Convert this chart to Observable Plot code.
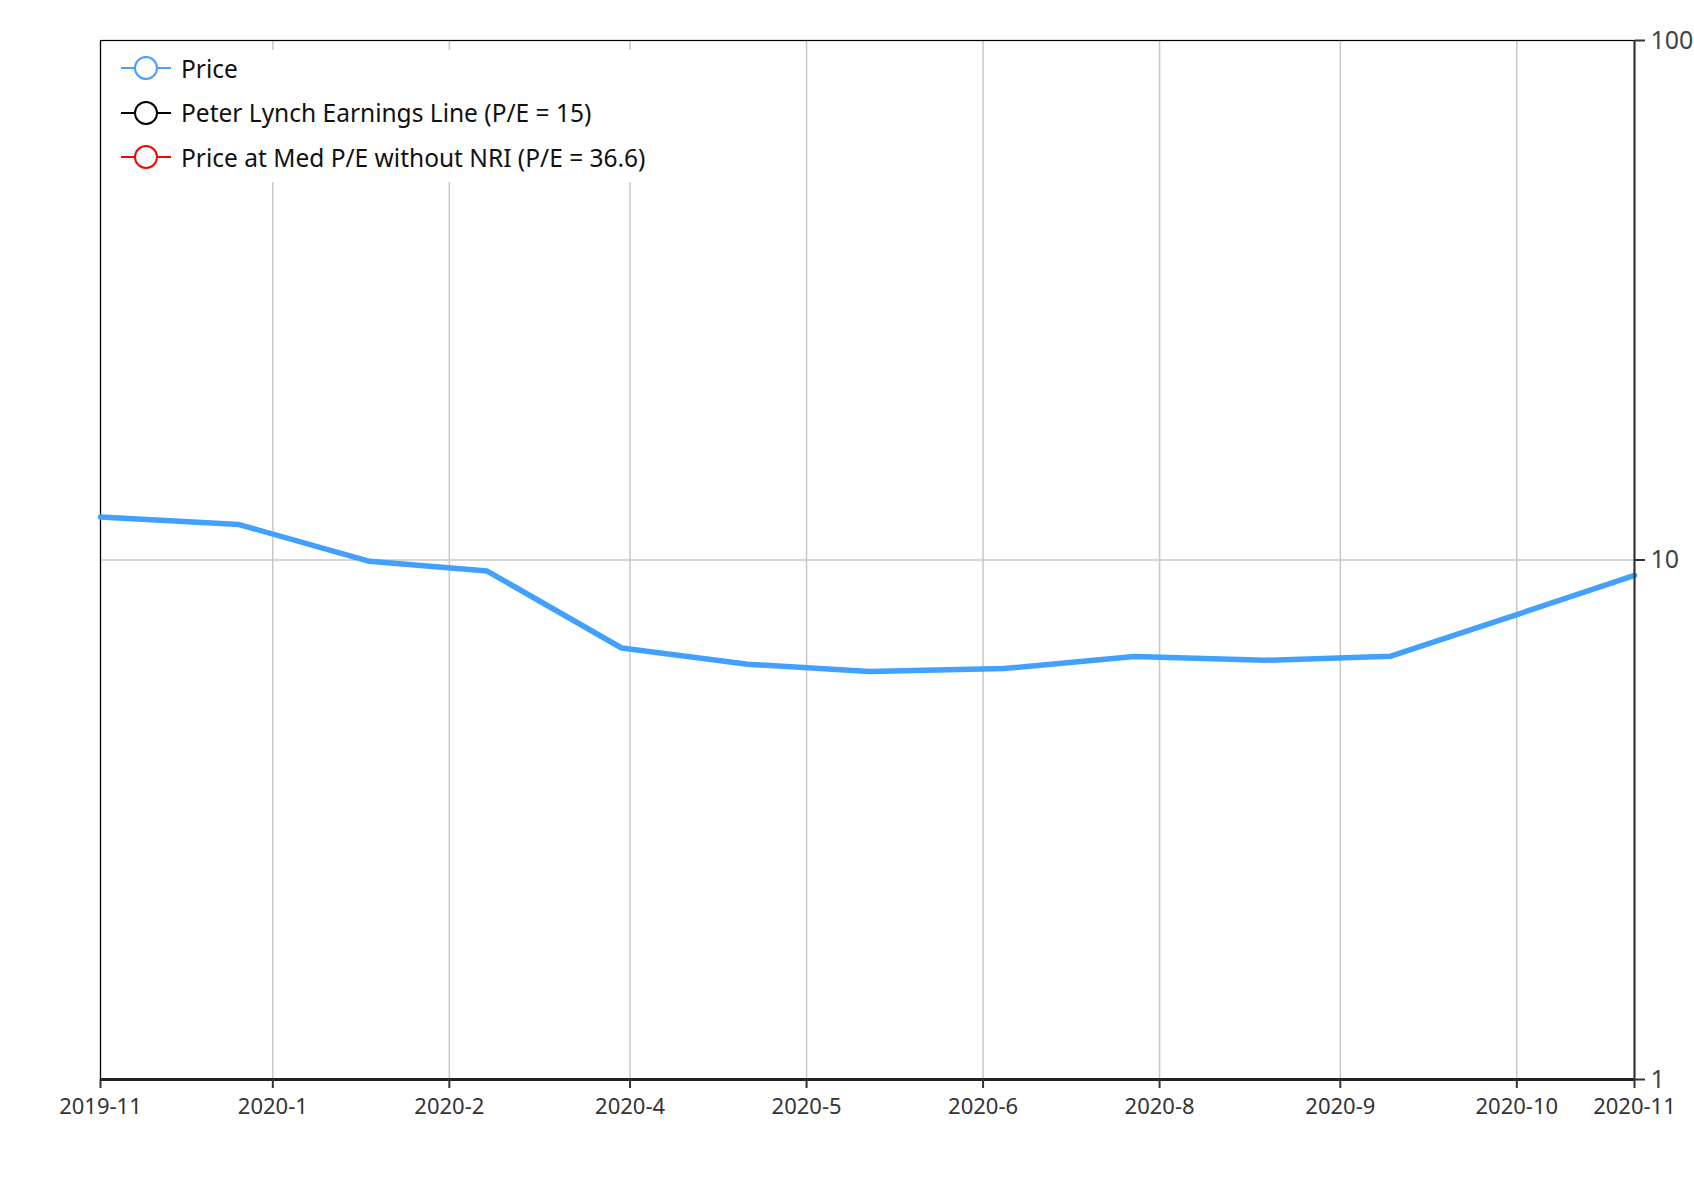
<!DOCTYPE html>
<html>
<head>
<meta charset="utf-8">
<script src="https://cdn.jsdelivr.net/npm/d3@7"></script>
<script src="https://cdn.jsdelivr.net/npm/@observablehq/plot@0.6"></script>
<style>
  html, body { margin: 0; padding: 0; background: #fff; }
  #wrap { position: relative; width: 1694px; height: 1200px; font-family: "Noto Sans", "Open Sans", sans-serif; }
  #legend { position: absolute; left: 108px; top: 50px; width: 570px; height: 132px; background: #fff; }
  .item { position: absolute; left: 0; height: 30px; display: flex; align-items: center; font-size: 24.5px; color: #111; }
  .item svg { margin-left: 13px; margin-right: 10px; }
</style>
</head>
<body>
<div id="wrap"><div id="chart"></div><div id="legend"></div></div>
<script>
// ---- data ----
const dates = ["2019-11-28","2019-12-31","2020-01-31","2020-02-28","2020-03-31","2020-04-30","2020-05-29","2020-06-30","2020-07-31","2020-08-31","2020-09-30","2020-10-30","2020-11-27"];
const price = [12.1, 11.7, 9.94, 9.52, 6.77, 6.30, 6.10, 6.18, 6.52, 6.41, 6.53, 7.85, 9.34];
const xDomain = ["2019-11-28", "2020-11-27"];
const xTickDates = ["2019-11-28","2020-01-08","2020-02-19","2020-04-02","2020-05-14","2020-06-25","2020-08-06","2020-09-18","2020-10-30","2020-11-27"];
const xTickLabels = ["2019-11","2020-1","2020-2","2020-4","2020-5","2020-6","2020-8","2020-9","2020-10","2020-11"];
const yTicks = [1, 10, 100];
const legendNames = ["Price", "Peter Lynch Earnings Line (P/E = 15)", "Price at Med P/E without NRI (P/E = 36.6)"];
const legendColors = ["#42a0ff", "#000000", "#ff0000"];

const parse = d3.utcParse("%Y-%m-%d");
const data = dates.map((d, i) => ({date: parse(d), price: price[i]}));
const tickDates = xTickDates.map(parse);
const labelOf = new Map(tickDates.map((d, i) => [+d, xTickLabels[i]]));
const dom = xDomain.map(parse);

const chart = Plot.plot({
  width: 1694,
  height: 1200,
  marginLeft: 100,
  marginRight: 60,
  marginTop: 40,
  marginBottom: 121,
  style: {fontFamily: "'Noto Sans', 'Open Sans', sans-serif", background: "#fff"},
  x: {type: "utc", domain: dom, label: null},
  y: {type: "log", domain: [1, 100], label: null},
  marks: [
    Plot.gridX(tickDates, {stroke: "#c8c8c8", strokeOpacity: 1, strokeWidth: 1.5}),
    Plot.gridY([10], {stroke: "#c8c8c8", strokeOpacity: 1, strokeWidth: 1.5}),
    Plot.frame({stroke: "#000", strokeWidth: 1.2}),
    Plot.line(data, {x: "date", y: "price", stroke: legendColors[0], strokeWidth: 5.5}),
    Plot.ruleY([1], {stroke: "#222", strokeWidth: 3}),
    Plot.ruleX([dom[1]], {stroke: "#333", strokeWidth: 2}),
    Plot.axisX({ticks: tickDates, tickFormat: d => labelOf.get(+d), tickSize: 9, tickPadding: 10, fontSize: 22, color: "#333", stroke: "#333", strokeWidth: 2, label: null}),
    Plot.axisY({anchor: "right", ticks: yTicks, tickFormat: d3.format("d"), tickSize: 10, tickPadding: 6, fontSize: 25, color: "#444", stroke: "#333", strokeWidth: 2, label: null})
  ]
});
document.getElementById("chart").appendChild(chart);

// ---- legend ----
const leg = document.getElementById("legend");
legendNames.forEach((name, i) => {
  const div = document.createElement("div");
  div.className = "item";
  div.style.top = (3 + i * 44.5) + "px";
  div.innerHTML = `<svg width="50" height="30"><line x1="0" x2="50" y1="15" y2="15" stroke="${legendColors[i]}" stroke-width="2"/><circle cx="25" cy="15" r="11" fill="#fff" stroke="${legendColors[i]}" stroke-width="2"/></svg><span>${name}</span>`;
  leg.appendChild(div);
});
</script>
</body>
</html>
